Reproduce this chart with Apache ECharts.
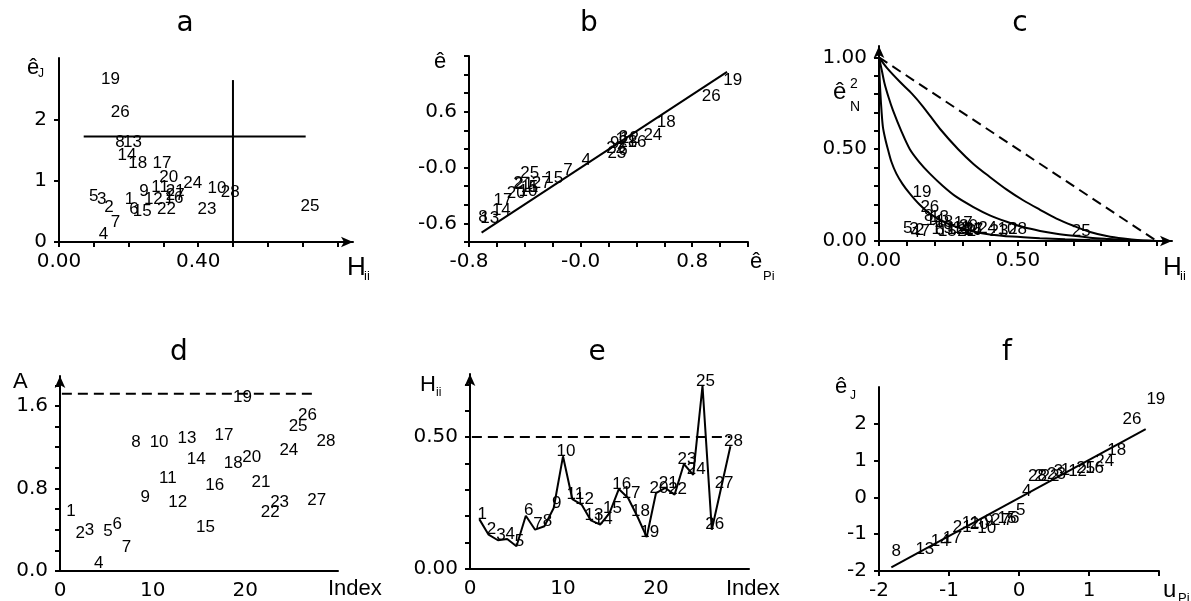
<!DOCTYPE html>
<html>
<head>
<meta charset="utf-8">
<script src="https://cdn.jsdelivr.net/npm/echarts@6.0.0/dist/echarts.min.js"></script>
<style>
  html, body { margin: 0; background: #fff; }
  #chart { width: 1191px; height: 601px; }
</style>
</head>
<body>
<div id="chart"></div>
<script>
// observation numbers
const IDS = [1,2,3,4,5,6,7,8,9,10,11,12,13,14,15,16,17,18,19,20,21,22,23,24,25,26,27,28];
// leverage H_ii (panel e, also x of a and c)
const HII = [0.189,0.130,0.109,0.114,0.086,0.202,0.149,0.162,0.231,0.427,0.265,0.244,0.184,0.168,
             0.212,0.303,0.269,0.199,0.121,0.288,0.307,0.282,0.398,0.357,0.694,0.149,0.307,0.465];
// panel a: |e_J|
const EJ_ABS = [0.70,0.57,0.69,0.12,0.75,0.54,0.32,1.63,0.83,0.87,0.89,0.70,1.62,1.42,
                0.50,0.72,1.29,1.28,2.65,1.05,0.82,0.54,0.53,0.96,0.58,2.11,0.76,0.81];
const A_HLINE_X = [0.071, 0.709];
const A_HLINE_Y = 1.72;
const A_VLINE_X = 0.5;
const A_VLINE_Y = [0, 2.64];

// panel b: e vs e_P
const B_IDS = [8,13,14,17,20,2,21,10,11,5,25,27,15,7,4,9,22,23,1,6,3,28,16,12,24,18,26,19];
const B_X = [-0.70,-0.652,-0.568,-0.556,-0.461,-0.449,-0.408,-0.377,-0.365,-0.337,-0.365,-0.282,-0.193,-0.091,
             0.041,0.244,0.251,0.26,0.284,0.303,0.308,0.339,0.404,0.351,0.518,0.614,0.936,1.091];
const B_Y = [-0.53,-0.54,-0.46,-0.35,-0.28,-0.165,-0.18,-0.25,-0.215,-0.21,-0.065,-0.165,-0.12,-0.03,
             0.08,0.265,0.204,0.158,0.30,0.186,0.33,0.276,0.276,0.31,0.35,0.49,0.77,0.94];
const B_FIT_X = [-0.71, 1.05];
const B_FIT_Y = [-0.70, 1.03];

// panel c: e_N^2 vs H_ii
const EN2 = [0.017,0.012,0.017,0.001,0.022,0.010,0.004,0.090,0.022,0.018,0.024,0.016,0.085,0.068,
             0.008,0.014,0.050,0.054,0.220,0.033,0.016,0.009,0.007,0.025,0.004,0.135,0.014,0.015];
const C_OUT_H = [0, 0.03, 0.075, 0.12, 0.159, 0.22, 0.285, 0.34, 0.399, 0.46, 0.519, 0.58, 0.639, 0.7, 0.76, 0.82, 0.88, 0.94, 1.0];
const C_OUT_E = [1, 0.94, 0.867, 0.80, 0.731, 0.61, 0.50, 0.42, 0.349, 0.28, 0.222, 0.17, 0.122, 0.083, 0.049, 0.027, 0.013, 0.004, 0];
const C_MID_H = [0, 0.01, 0.02, 0.035, 0.05, 0.08, 0.111, 0.145, 0.183, 0.23, 0.279, 0.34, 0.399, 0.46, 0.519, 0.58, 0.639, 0.7, 0.76, 0.82, 0.88, 0.94, 1.0];
const C_MID_E = [1, 0.93, 0.858, 0.78, 0.713, 0.60, 0.50, 0.43, 0.367, 0.30, 0.24, 0.185, 0.14, 0.105, 0.076, 0.055, 0.04, 0.028, 0.018, 0.011, 0.005, 0.002, 0];
const C_IN_H = [0, 0.002, 0.005, 0.009, 0.014, 0.022, 0.032, 0.045, 0.0625, 0.085, 0.111, 0.145, 0.183, 0.23, 0.279, 0.34, 0.399, 0.48, 0.579, 0.67, 0.76, 0.88, 1.0];
const C_IN_E = [1, 0.90, 0.804, 0.71, 0.622, 0.56, 0.50, 0.43, 0.367, 0.31, 0.258, 0.20, 0.149, 0.107, 0.076, 0.052, 0.036, 0.024, 0.015, 0.009, 0.005, 0.002, 0];
const C_DASH_H = [0, 1];
const C_DASH_E = [1, 0];

// panel d: A vs index
const D_A = [0.583,0.363,0.395,0.071,0.385,0.453,0.227,1.244,0.719,1.244,0.897,0.664,1.286,1.082,
             0.428,0.826,1.312,1.043,1.684,1.101,0.858,0.564,0.670,1.166,1.399,1.513,0.687,1.253];
const D_CUT_X = [0.2, 27.7];
const D_CUT_Y = 1.717;

// panel e: cut line
const E_CUT_X = [0.2, 28];
const E_CUT_Y = 0.5;

// panel f: normal probability plot
const F_IDS = [8,13,14,17,21,11,20,10,9,27,15,7,6,5,4,28,2,22,23,3,1,12,25,16,24,18,26,19];
const F_U = [-1.82,-1.48,-1.26,-1.09,-0.945,-0.817,-0.702,-0.595,-0.495,-0.399,-0.307,-0.218,-0.130,-0.043,
             0.043,0.130,0.218,0.307,0.399,0.495,0.595,0.702,0.817,0.945,1.09,1.26,1.48,1.82];
const F_E = [-1.47,-1.42,-1.19,-1.10,-0.80,-0.71,-0.73,-0.85,-0.66,-0.62,-0.58,-0.62,-0.58,-0.35,
             0.16,0.56,0.58,0.57,0.63,0.70,0.74,0.72,0.78,0.80,0.98,1.29,2.13,2.67];
const F_FIT_X = [-1.824, 1.81];
const F_FIT_Y = [-1.90, 1.855];

// tick values and labels
const A_XTICKS = [0,0.1,0.2,0.3,0.4,0.5,0.6,0.7,0.8], A_XLABELS = [0, 0.4];
const A_YTICKS = [0,1,2], A_YLABELS = [0,1,2];
const B_TICKS = [-0.8,-0.6,-0.4,-0.2,0,0.2,0.4,0.6,0.8,1.0,1.2];
const B_XLABELS = [-0.8, 0, 0.8], B_YLABELS = [-0.6, 0, 0.6];
const C_TICKS = [0,0.1,0.2,0.3,0.4,0.5,0.6,0.7,0.8,0.9,1.0];
const C_XLABELS = [0, 0.5], C_YLABELS = [0, 0.5, 1.0];
const IDX_LABELS = [0, 10, 20];
const D_YTICKS = [0,0.2,0.4,0.6,0.8,1.0,1.2,1.4,1.6,1.8], D_YLABELS = [0, 0.8, 1.6];
const E_YTICKS = [0,0.1,0.2,0.3,0.4,0.5,0.6,0.7], E_YLABELS = [0, 0.5];
const F_XTICKS = [-2,-1,0,1,2], F_XLABELS = [-2,-1,0,1];
const F_YTICKS = [-2,-1,0,1,2], F_YLABELS = [-2,-1,0,1,2];

const BLACK = '#000';
const TICK_FONT = { fontFamily: 'DejaVu Sans', fontSize: 20, color: BLACK };
const NUM_FONT = { fontFamily: 'Liberation Sans', fontSize: 17, color: BLACK };

function axis(gi, o) {
  return {
    type: 'value', gridIndex: gi, min: o.min, max: o.max,
    axisLine: {
      onZero: false,
      lineStyle: { color: BLACK, width: 2 },
      symbol: o.arrow ? ['none', 'arrow'] : 'none',
      symbolSize: [8, 12]
    },
    axisTick: { show: !!o.ticks, customValues: o.ticks || o.labels, length: 5,
                lineStyle: { color: BLACK, width: 2 } },
    axisLabel: Object.assign({ customValues: o.labels, formatter: o.fmt, margin: o.margin || 10 }, TICK_FONT),
    splitLine: { show: false }
  };
}

const fix = (n) => (v) => v.toFixed(n);
const negZero = (v) => Math.abs(v) < 1e-9 ? '-0.0' : v.toFixed(1);
const plain = (v) => String(v);

function pts(xs, ys) { return xs.map((x, i) => [x, Array.isArray(ys) ? ys[i] : ys]); }

function line(gi, data, opts) {
  return Object.assign({
    type: 'line', xAxisIndex: gi, yAxisIndex: gi, data: data, symbol: 'none',
    silent: true, animation: false,
    lineStyle: { color: BLACK, width: 2 }
  }, opts || {});
}

function labels(gi, ids, xs, ys, label) {
  return {
    type: 'scatter', xAxisIndex: gi, yAxisIndex: gi, symbolSize: 0, silent: true, animation: false,
    itemStyle: { opacity: 1, color: BLACK },
    data: xs.map((x, i) => [x, ys[i], ids[i]]),
    label: Object.assign({ show: true, formatter: (p) => String(p.data[2]) }, NUM_FONT, label)
  };
}

const TITLES = [['a', 185, 24], ['b', 589, 24], ['c', 1020, 24], ['d', 179, 353], ['e', 597, 353], ['f', 1007, 353]];
// [text, x, y, size]
const NAMES = [
  ['ê', 27, 68, 22], ['J', 38, 74, 12],
  ['H', 347, 268, 26], ['ii', 364, 276, 13],
  ['ê', 434, 62, 22],
  ['ê', 750, 262, 22], ['Pi', 763, 276, 13],
  ['ê', 833, 92, 24], ['2', 850, 84, 14], ['N', 850, 107, 14],
  ['H', 1163, 268, 26], ['ii', 1180, 276, 13],
  ['A', 13, 382, 22], ['Index', 328, 589, 22],
  ['H', 420, 385, 22], ['ii', 436, 393, 12],
  ['Index', 726, 589, 22],
  ['ê', 835, 387, 22], ['J', 850, 396, 12],
  ['u', 1163, 590, 24], ['Pi', 1178, 598, 13]
];

const graphic = TITLES.map(([t, x, y]) => ({
  type: 'text', x: x, y: y, silent: true,
  style: { text: t, fill: BLACK, fontFamily: 'DejaVu Sans', fontSize: 28, align: 'center', verticalAlign: 'middle' }
})).concat(NAMES.map(([t, x, y, s]) => ({
  type: 'text', x: x, y: y, silent: true,
  style: { text: t, fill: BLACK, fontFamily: 'Liberation Sans', fontSize: s, align: 'left', verticalAlign: 'middle' }
})));

const option = {
  backgroundColor: '#fff',
  animation: false,
  grid: [
    { left: 59, top: 58, width: 294, height: 184, outerBoundsMode: 'none' },
    { left: 469, top: 56, width: 279, height: 186, outerBoundsMode: 'none' },
    { left: 879, top: 46, width: 293, height: 195, outerBoundsMode: 'none' },
    { left: 60, top: 376, width: 278, height: 195, outerBoundsMode: 'none' },
    { left: 470, top: 374, width: 279, height: 195, outerBoundsMode: 'none' },
    { left: 879, top: 387, width: 280, height: 184, outerBoundsMode: 'none' }
  ],
  xAxis: [
    axis(0, { min: 0, max: 0.845, ticks: A_XTICKS, labels: A_XLABELS, fmt: fix(2), arrow: true }),
    axis(1, { min: -0.8, max: 1.2, ticks: B_TICKS, labels: B_XLABELS, fmt: negZero }),
    axis(2, { min: 0, max: 1.055, ticks: C_TICKS, labels: C_XLABELS, fmt: fix(2), arrow: true }),
    axis(3, { min: 0, max: 30, labels: IDX_LABELS, fmt: plain }),
    axis(4, { min: 0, max: 30, labels: IDX_LABELS, fmt: plain }),
    axis(5, { min: -2, max: 2, ticks: F_XTICKS, labels: F_XLABELS, fmt: plain })
  ],
  yAxis: [
    axis(0, { min: 0, max: 3, ticks: A_YTICKS, labels: A_YLABELS, fmt: plain, margin: 12 }),
    axis(1, { min: -0.8, max: 1.2, ticks: B_TICKS, labels: B_YLABELS, fmt: negZero, margin: 12 }),
    axis(2, { min: 0, max: 1.062, ticks: C_TICKS, labels: C_YLABELS, fmt: fix(2), arrow: true, margin: 12 }),
    axis(3, { min: 0, max: 1.89, ticks: D_YTICKS, labels: D_YLABELS, fmt: fix(1), arrow: true, margin: 12 }),
    axis(4, { min: 0, max: 0.739, ticks: E_YTICKS, labels: E_YLABELS, fmt: fix(2), arrow: true, margin: 12 }),
    axis(5, { min: -2, max: 3, ticks: F_YTICKS, labels: F_YLABELS, fmt: plain, margin: 12 })
  ],
  graphic: graphic,
  series: [
    // a
    line(0, pts(A_HLINE_X, A_HLINE_Y)),
    line(0, A_VLINE_Y.map((y) => [A_VLINE_X, y])),
    labels(0, IDS, HII, EJ_ABS, { position: 'right', distance: 0 }),
    // b
    line(1, pts(B_FIT_X, B_FIT_Y)),
    labels(1, B_IDS, B_X, B_Y, { position: 'inside' }),
    // c
    line(2, pts(C_DASH_H, C_DASH_E), { lineStyle: { color: BLACK, width: 2, type: [10, 6] } }),
    line(2, pts(C_OUT_H, C_OUT_E), { smooth: 0.3 }),
    line(2, pts(C_MID_H, C_MID_E), { smooth: 0.3 }),
    line(2, pts(C_IN_H, C_IN_E), { smooth: 0.3 }),
    labels(2, IDS, HII, EN2, { position: 'insideBottomLeft', distance: 0 }),
    // d
    line(3, pts(D_CUT_X, D_CUT_Y), { lineStyle: { color: BLACK, width: 2, type: [10, 6] } }),
    labels(3, IDS, IDS, D_A, { position: 'right', distance: 0, offset: [-3, 0] }),
    // e
    line(4, pts(E_CUT_X, E_CUT_Y), { lineStyle: { color: BLACK, width: 2, type: [10, 6] } }),
    line(4, pts(IDS, HII)),
    labels(4, IDS, IDS, HII, { position: 'inside', offset: [3, -5] }),
    // f
    line(5, pts(F_FIT_X, F_FIT_Y)),
    labels(5, F_IDS, F_U, F_E, { position: 'right', distance: 0 })
  ]
};

const chart = echarts.init(document.getElementById('chart'), null, { renderer: 'canvas' });
chart.setOption(option);
</script>
</body>
</html>
